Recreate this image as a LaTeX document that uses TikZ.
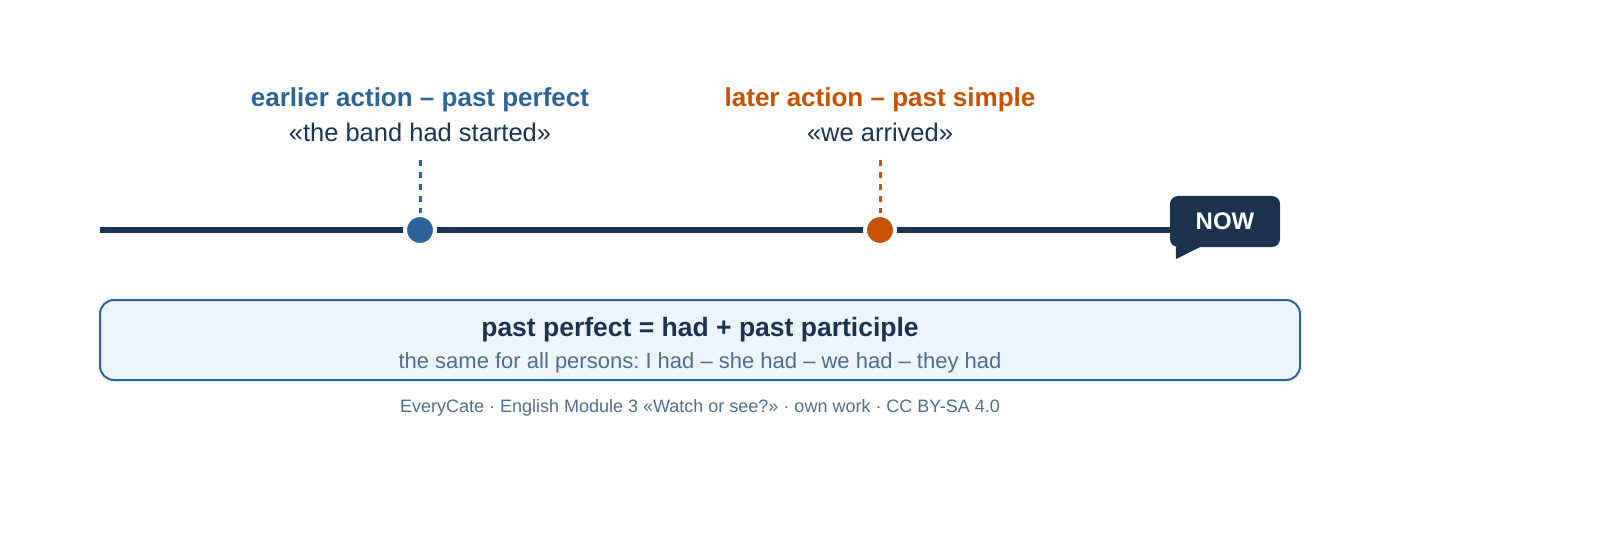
\documentclass[tikz,border=0pt]{standalone}
\usepackage{fontspec}
\setmainfont{Liberation Sans}
\usetikzlibrary{backgrounds}
\definecolor{navy}{HTML}{1B3350}
\definecolor{pblue}{HTML}{2E6399}
\definecolor{porange}{HTML}{C85200}
\definecolor{boxfill}{HTML}{EEF4FB}
\definecolor{softgray}{HTML}{4F6E8E}
\frenchspacing

\begin{document}
\begin{tikzpicture}[x=1pt,y=-1pt,
    label/.style={anchor=base,inner sep=0pt,font=\fontsize{26}{30}\selectfont\bfseries},
    quote/.style={anchor=base,inner sep=0pt,text=navy,font=\fontsize{25.5}{30}\selectfont},
    event/.style={circle,fill=#1,draw=white,line width=4pt,minimum size=30pt,inner sep=0pt},
    tick/.style={#1,line width=3pt,dash pattern=on 6pt off 6pt}]
    \useasboundingbox (0,0) rectangle (1600,540);
    \node [label,text=pblue] (earlier) at (420,106.5) {earlier action – past perfect};
    \node [quote] (band) at (420,141.5) {«the band had started»};
    \node [label,text=porange] (later) at (880,106.5) {later action – past simple};
    \node [quote] (arrived) at (880,141.5) {«we arrived»};
    \coordinate (tick1) at (420,160);
    \coordinate (tick2) at (880,160);
    \node [event=pblue] (dot1) at (420,230) {};
    \node [event=porange] (dot2) at (880,230) {};
    \node [fill=navy,text=white,rounded corners=8pt,minimum width=110pt,minimum height=51pt,
        font=\fontsize{24}{28}\selectfont\bfseries] (now) at (1225,221.5) {NOW};
    \fill [navy] ([xshift=6pt]now.south west) -- ++(0,12) -- ([xshift=30pt]now.south west) -- cycle;
    \coordinate (start) at (100,230);
    \begin{scope}[on background layer]
        \draw [navy,line width=6pt] (start) -- (start -| now.west);
    \end{scope}
    \draw [tick=pblue] (tick1) -- (dot1);
    \draw [tick=porange] (tick2) -- (dot2);
    \node [draw=pblue,fill=boxfill,line width=2pt,rounded corners=14pt,
        minimum width=1200pt,minimum height=80pt] (rule) at (700,340) {};
    \node [label,text=navy,font=\fontsize{26.5}{30}\selectfont\bfseries] (formula) at (700,336) {past perfect = had + past participle};
    \node [anchor=base,inner sep=0pt,text=softgray,font=\fontsize{22}{26}\selectfont] (persons) at (700,368.7) {the same for all persons: I had – she had – we had – they had};
    \node [anchor=base,inner sep=0pt,text=softgray,font=\fontsize{18}{22}\selectfont] (credit) at (700,412) {EveryCate · English Module 3 «Watch or see?» · own work · CC BY-SA 4.0};
\end{tikzpicture}
\end{document}
